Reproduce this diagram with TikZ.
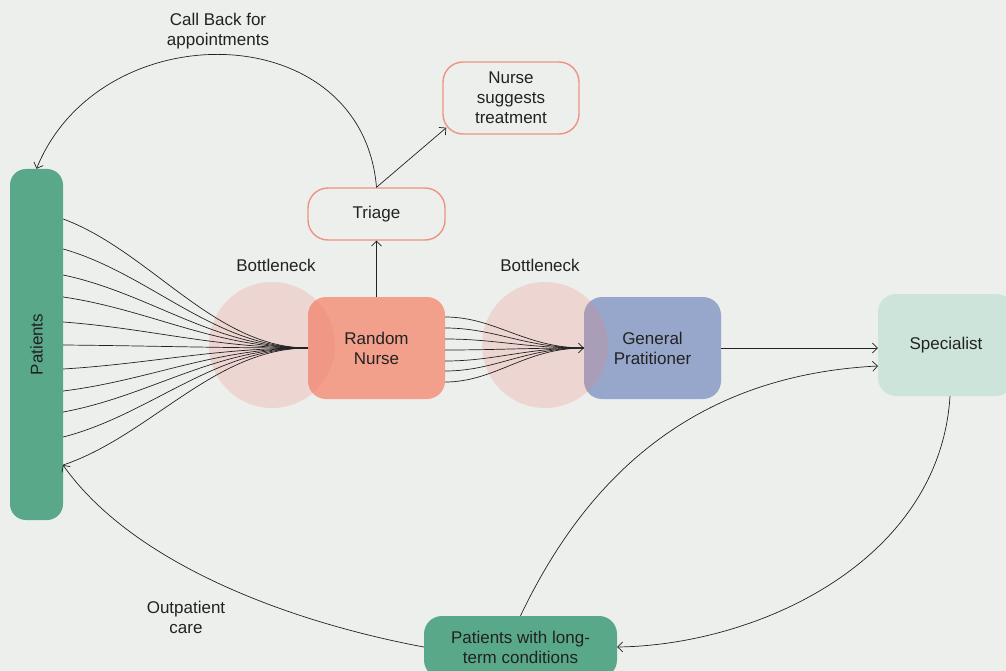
\documentclass[tikz,border=0pt]{standalone}
\usepackage{fontspec}
\setmainfont{Liberation Sans}
\usetikzlibrary{arrows.meta,calc}
\definecolor{bg}{HTML}{EDEFEC}
\definecolor{pgreen}{HTML}{58A889}
\definecolor{nursefill}{HTML}{F2A08C}
\definecolor{nurseline}{HTML}{EE9382}
\definecolor{gpfill}{HTML}{97A7CC}
\definecolor{specfill}{HTML}{CDE4DB}
\definecolor{neck}{HTML}{F07B72}
\definecolor{ink}{HTML}{222222}
\tikzset{
  txt/.style={font=\fontsize{17}{20}\selectfont, align=center, text=ink},
  solidbox/.style={txt, draw=none, rounded corners=18pt, inner sep=0pt},
  outlinebox/.style={txt, draw=nurseline, line width=1.4pt, fill=bg, rounded corners=20pt, inner sep=0pt},
  wire/.style={draw=ink, line width=0.7pt},
  arr/.style={wire, -{Straight Barb[length=5pt,width=10pt]}},
  neckcircle/.style={fill=neck, fill opacity=0.22, draw=none}
}
\begin{document}
\begin{tikzpicture}[x=1pt,y=-1pt]
\useasboundingbox (0,0) rectangle (1006,671);
\clip (0,0) rectangle (1006,671);
\fill[bg] (0,0) rectangle (1006,671);

% main boxes
\node[solidbox, fill=pgreen, rounded corners=16pt, minimum width=53pt, minimum height=351pt] (patients) at (36.5,344.5) {};
\node[txt, rotate=90] at (patients.center) {Patients};
\node[solidbox, fill=nursefill, minimum width=137pt, minimum height=102pt] (nurse) at (376.5,348) {Random\\Nurse};
\node[solidbox, fill=gpfill, minimum width=137pt, minimum height=102pt] (gp) at (652.5,348) {General\\Pratitioner};
\node[solidbox, fill=specfill, minimum width=136pt, minimum height=102pt] (spec) at (946,345) {Specialist};
\node[solidbox, fill=pgreen, minimum width=193pt, minimum height=62pt] (longterm) at (520.5,647) {Patients with long-\\term conditions};
\node[outlinebox, minimum width=137pt, minimum height=52pt] (triage) at (376.5,214) {Triage};
\node[outlinebox, minimum width=136pt, minimum height=72pt] (suggest) at (511,98) {Nurse\\suggests\\treatment};

% bottleneck zones
\node[circle, neckcircle, minimum size=126pt, inner sep=0pt] (neck1) at (272,345) {};
\node[circle, neckcircle, minimum size=126pt, inner sep=0pt] (neck2) at (545,345) {};
\node[txt] (neck1label) at (276,265) {Bottleneck};
\node[txt] (neck2label) at (540,265) {Bottleneck};

% patients funnelled into a single nurse
\foreach \yy in {219,249,275,297,322,345,369,391,412,437,465} {
  \pgfmathsetmacro{\cy}{\yy+0.25*(348-\yy)}
  \draw[wire] (patients.east |- 0,\yy) .. controls (150,\cy) and (215,348) .. (nurse.west);
}
% nurse passing patients on to the GP
\foreach \yy in {317,328,339,361,371,382} {
  \draw[wire] (nurse.east |- 0,\yy) .. controls (495,\yy) and (525,348) .. (gp.west);
}
\draw[arr] (nurse.east |- 0,350) .. controls (495,350) and (525,348) .. (gp.west);

% triage and call back
\draw[arr] (nurse.north) -- (triage.south);
\coordinate (suggestin) at ($(suggest.south west)+(4,-7)$);
\draw[arr] (triage.north) -- (suggestin);
\draw[arr] (triage.north) .. controls (362,15) and (100,12) .. (patients.north);
\node[txt] (calllabel) at (218,31) {Call Back for\\appointments};

% referrals
\draw[arr] (gp.east) -- (gp.east -| spec.west);
\coordinate (specbottom) at (950,396);
\draw[arr] (specbottom) .. controls (940,560) and (760,645) .. (longterm.east);
\coordinate (spectarget) at (878,366);
\draw[arr] (longterm.north) .. controls (590,470) and (700,375) .. (spectarget);
\coordinate (outpatin) at (63,465);
\draw[arr] (longterm.west) .. controls (280,620) and (130,560) .. (outpatin);
\node[txt] (outlabel) at (186,617) {Outpatient\\care};
\end{tikzpicture}
\end{document}
